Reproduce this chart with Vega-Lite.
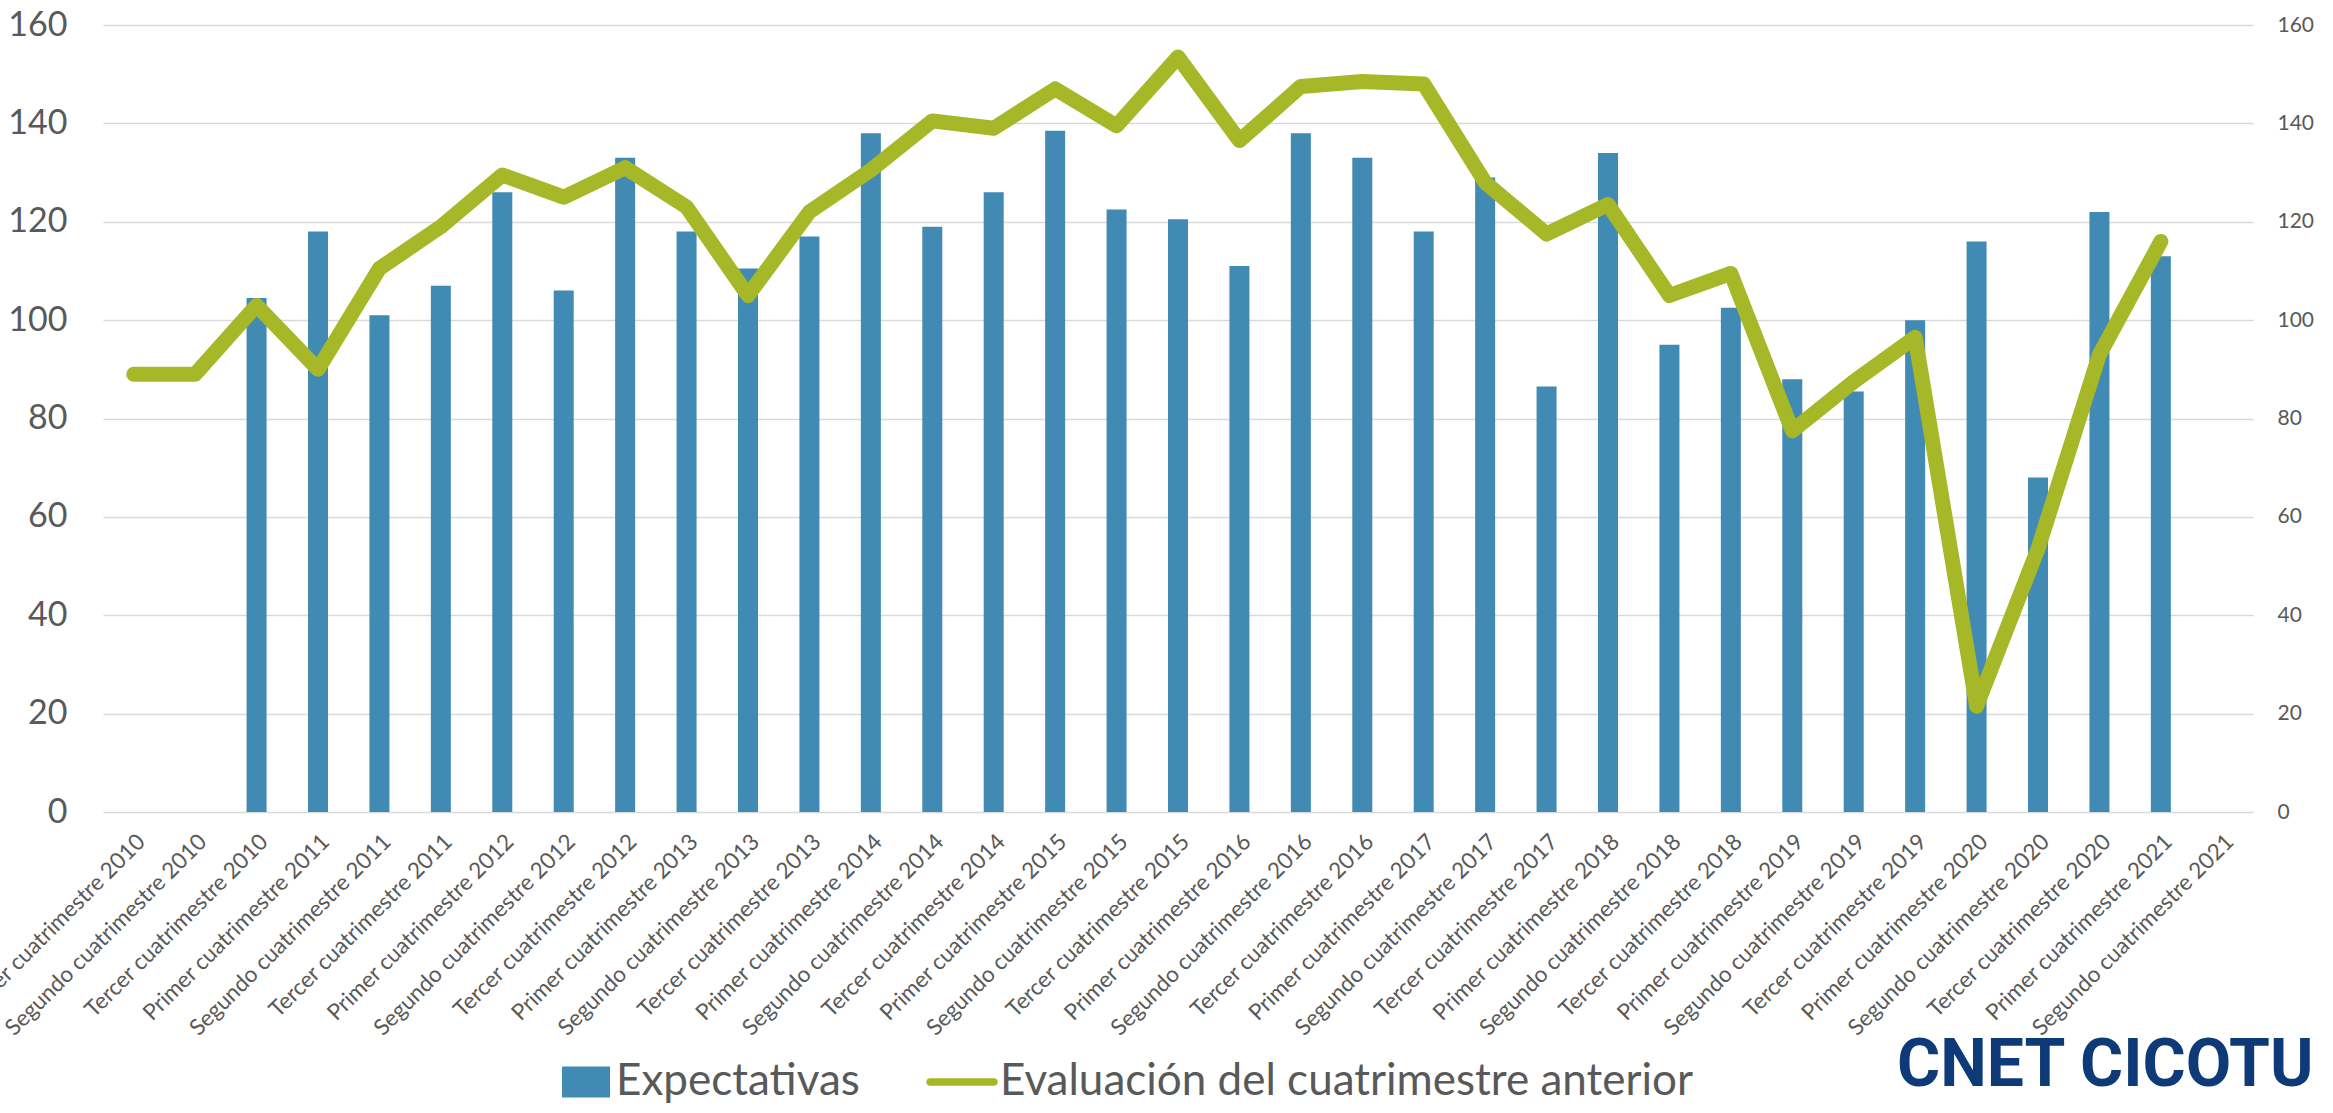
{
  "$schema": "https://vega.github.io/schema/vega-lite/v6.json",
  "width": 2150,
  "height": 787,
  "autosize": {"type": "none"},
  "padding": {"left": 103, "top": 25, "right": 80, "bottom": 301},
  "background": "white",
  "config": {
    "view": {"stroke": null},
    "font": "Lato",
    "legend": {
      "orient": "none",
      "direction": "horizontal",
      "title": null,
      "labelFontSize": 44,
      "labelColor": "#595959",
      "labelFont": "Lato",
      "labelLimit": 1000,
      "labelOffset": 6
    }
  },
  "title": {
    "text": "CNET   CICOTU",
    "orient": "bottom",
    "anchor": "end",
    "font": "Roboto",
    "fontSize": 66,
    "fontWeight": "bold",
    "color": "#0E3B78",
    "dy": -74
  },
  "data": {
    "values": [
      {"periodo": "Primer cuatrimestre 2010", "expectativas": null, "evaluacion": 89},
      {"periodo": "Segundo cuatrimestre 2010", "expectativas": null, "evaluacion": 89},
      {"periodo": "Tercer cuatrimestre 2010", "expectativas": 104.5, "evaluacion": 103},
      {"periodo": "Primer cuatrimestre 2011", "expectativas": 118, "evaluacion": 90},
      {"periodo": "Segundo cuatrimestre 2011", "expectativas": 101, "evaluacion": 110.5},
      {"periodo": "Tercer cuatrimestre 2011", "expectativas": 107, "evaluacion": 119},
      {"periodo": "Primer cuatrimestre 2012", "expectativas": 126, "evaluacion": 129.5},
      {"periodo": "Segundo cuatrimestre 2012", "expectativas": 106, "evaluacion": 125},
      {"periodo": "Tercer cuatrimestre 2012", "expectativas": 133, "evaluacion": 131},
      {"periodo": "Primer cuatrimestre 2013", "expectativas": 118, "evaluacion": 123},
      {"periodo": "Segundo cuatrimestre 2013", "expectativas": 110.5, "evaluacion": 105},
      {"periodo": "Tercer cuatrimestre 2013", "expectativas": 117, "evaluacion": 122},
      {"periodo": "Primer cuatrimestre 2014", "expectativas": 138, "evaluacion": 130.5},
      {"periodo": "Segundo cuatrimestre 2014", "expectativas": 119, "evaluacion": 140.5},
      {"periodo": "Tercer cuatrimestre 2014", "expectativas": 126, "evaluacion": 139},
      {"periodo": "Primer cuatrimestre 2015", "expectativas": 138.5, "evaluacion": 147},
      {"periodo": "Segundo cuatrimestre 2015", "expectativas": 122.5, "evaluacion": 139.5},
      {"periodo": "Tercer cuatrimestre 2015", "expectativas": 120.5, "evaluacion": 153.5},
      {"periodo": "Primer cuatrimestre 2016", "expectativas": 111, "evaluacion": 136.5},
      {"periodo": "Segundo cuatrimestre 2016", "expectativas": 138, "evaluacion": 147.5},
      {"periodo": "Tercer cuatrimestre 2016", "expectativas": 133, "evaluacion": 148.5},
      {"periodo": "Primer cuatrimestre 2017", "expectativas": 118, "evaluacion": 148},
      {"periodo": "Segundo cuatrimestre 2017", "expectativas": 129, "evaluacion": 128},
      {"periodo": "Tercer cuatrimestre 2017", "expectativas": 86.5, "evaluacion": 117.5},
      {"periodo": "Primer cuatrimestre 2018", "expectativas": 134, "evaluacion": 123.5},
      {"periodo": "Segundo cuatrimestre 2018", "expectativas": 95, "evaluacion": 105},
      {"periodo": "Tercer cuatrimestre 2018", "expectativas": 102.5, "evaluacion": 109.5},
      {"periodo": "Primer cuatrimestre 2019", "expectativas": 88, "evaluacion": 77.5},
      {"periodo": "Segundo cuatrimestre 2019", "expectativas": 85.5, "evaluacion": 87.5},
      {"periodo": "Tercer cuatrimestre 2019", "expectativas": 100, "evaluacion": 96.5},
      {"periodo": "Primer cuatrimestre 2020", "expectativas": 116, "evaluacion": 21.5},
      {"periodo": "Segundo cuatrimestre 2020", "expectativas": 68, "evaluacion": 53.5},
      {"periodo": "Tercer cuatrimestre 2020", "expectativas": 122, "evaluacion": 93},
      {"periodo": "Primer cuatrimestre 2021", "expectativas": 113, "evaluacion": 116},
      {"periodo": "Segundo cuatrimestre 2021", "expectativas": null, "evaluacion": null}
    ]
  },
  "encoding": {
    "x": {
      "field": "periodo",
      "type": "nominal",
      "sort": null,
      "scale": {
        "domain": [
          "Primer cuatrimestre 2010", "Segundo cuatrimestre 2010", "Tercer cuatrimestre 2010",
          "Primer cuatrimestre 2011", "Segundo cuatrimestre 2011", "Tercer cuatrimestre 2011",
          "Primer cuatrimestre 2012", "Segundo cuatrimestre 2012", "Tercer cuatrimestre 2012",
          "Primer cuatrimestre 2013", "Segundo cuatrimestre 2013", "Tercer cuatrimestre 2013",
          "Primer cuatrimestre 2014", "Segundo cuatrimestre 2014", "Tercer cuatrimestre 2014",
          "Primer cuatrimestre 2015", "Segundo cuatrimestre 2015", "Tercer cuatrimestre 2015",
          "Primer cuatrimestre 2016", "Segundo cuatrimestre 2016", "Tercer cuatrimestre 2016",
          "Primer cuatrimestre 2017", "Segundo cuatrimestre 2017", "Tercer cuatrimestre 2017",
          "Primer cuatrimestre 2018", "Segundo cuatrimestre 2018", "Tercer cuatrimestre 2018",
          "Primer cuatrimestre 2019", "Segundo cuatrimestre 2019", "Tercer cuatrimestre 2019",
          "Primer cuatrimestre 2020", "Segundo cuatrimestre 2020", "Tercer cuatrimestre 2020",
          "Primer cuatrimestre 2021", "Segundo cuatrimestre 2021"
        ],
        "paddingInner": 0,
        "paddingOuter": 0
      },
      "axis": {
        "title": null,
        "labelAngle": -45,
        "labelFontSize": 22.5,
        "labelColor": "#595959",
        "labelFont": "Lato",
        "labelPadding": 18,
        "labelLimit": 500,
        "labelOverlap": false,
        "ticks": false,
        "domain": false,
        "grid": false
      }
    }
  },
  "layer": [
    {
      "mark": {"type": "bar", "size": 20},
      "encoding": {
        "y": {
          "field": "expectativas",
          "type": "quantitative",
          "scale": {"domain": [0, 160], "nice": false},
          "axis": {
            "title": null,
            "orient": "left",
            "values": [0, 20, 40, 60, 80, 100, 120, 140, 160],
            "labelFontSize": 34,
            "labelColor": "#595959",
            "labelFont": "Lato",
            "labelPadding": 36,
            "ticks": false,
            "domain": false,
            "grid": true,
            "gridColor": "#D9D9D9",
            "gridWidth": 1.5
          }
        },
        "fill": {
          "datum": "Expectativas",
          "type": "nominal",
          "scale": {"range": ["#418AB3"]},
          "legend": {
            "legendX": 459,
            "legendY": 1033,
            "symbolType": "M -1 -0.65 L 1 -0.65 L 1 0.65 L -1 0.65 Z",
            "symbolSize": 2304,
            "symbolStrokeWidth": 0
          }
        }
      }
    },
    {
      "mark": {"type": "line", "strokeWidth": 15, "strokeCap": "round", "strokeJoin": "round"},
      "encoding": {
        "y": {
          "field": "evaluacion",
          "type": "quantitative",
          "scale": {"domain": [0, 160], "nice": false},
          "axis": {
            "title": null,
            "orient": "right",
            "values": [0, 20, 40, 60, 80, 100, 120, 140, 160],
            "labelFontSize": 21,
            "labelColor": "#595959",
            "labelFont": "Lato",
            "labelPadding": 24,
            "ticks": false,
            "domain": false,
            "grid": false
          }
        },
        "stroke": {
          "datum": "Evaluación del cuatrimestre anterior",
          "type": "nominal",
          "scale": {"range": ["#A6B727"]},
          "legend": {
            "legendX": 827,
            "legendY": 1025,
            "symbolType": "M -1 -0.117 L 1 -0.117 A 0.117 0.117 0 0 1 1 0.117 L -1 0.117 A 0.117 0.117 0 0 1 -1 -0.117 Z",
            "symbolSize": 4096,
            "symbolFillColor": "#A6B727",
            "symbolStrokeWidth": 0
          }
        }
      }
    }
  ],
  "resolve": {"scale": {"y": "independent"}}
}
